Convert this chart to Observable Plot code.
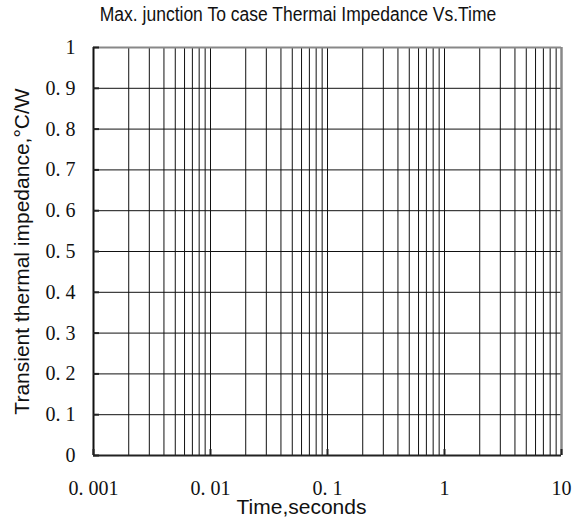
<!DOCTYPE html>
<html>
<head>
<meta charset="utf-8">
<script src="https://cdn.jsdelivr.net/npm/d3@7"></script>
<script src="https://cdn.jsdelivr.net/npm/@observablehq/plot@0.6"></script>
<style>
  html, body { margin: 0; padding: 0; background: #fff; }
  #wrap { width: 580px; }
  #title {
    height: 30px; width: 580px; position: relative;
    font-family: "Liberation Sans", Arial, sans-serif; font-size: 20px; color: #111;
  }
  #title span {
    position: absolute; left: 298px; top: 3px; white-space: nowrap;
    transform: translateX(-50%) scaleX(0.875); transform-origin: center;
  }
</style>
</head>
<body>
<div id="wrap">
  <div id="title"><span>Max. junction To case Thermai Impedance Vs.Time</span></div>
  <div id="chart"></div>
</div>
<script>
const decades = [0.001, 0.01, 0.1, 1, 10];
const xLabels = ["0. 001", "0. 01", "0. 1", "1", "10"];
const minorMultipliers = [2, 3, 4, 5, 6, 7, 8, 9];
const yTicks = [0, 0.1, 0.2, 0.3, 0.4, 0.5, 0.6, 0.7, 0.8, 0.9, 1];
const yLabels = ["0", "0. 1", "0. 2", "0. 3", "0. 4", "0. 5", "0. 6", "0. 7", "0. 8", "0. 9", "1"];
const xTitle = "Time,seconds";
const yTitle = "Transient thermal impedance,°C/W";

const minorX = decades.slice(0, -1).flatMap(d => minorMultipliers.map(m => d * m));
const xTickData = decades.map((v, i) => ({v, label: xLabels[i]}));
const yTickData = yTicks.map((v, i) => ({v, label: yLabels[i]}));

const serif = "'Liberation Serif', 'Times New Roman', serif";
const sans = "'Liberation Sans', Arial, sans-serif";

const chart = Plot.plot({
  width: 580,
  height: 490,
  marginLeft: 93,
  marginRight: 19,
  marginTop: 17,
  marginBottom: 65,
  x: {type: "log", domain: [0.001, 10], axis: null},
  y: {domain: [0, 1], axis: null},
  style: {background: "#fff", overflow: "visible"},
  marks: [
    Plot.ruleX(minorX, {stroke: "#111", strokeWidth: 1}),
    Plot.ruleX(decades.slice(1, -1), {stroke: "#111", strokeWidth: 1}),
    Plot.ruleY(yTicks.slice(1, -1), {stroke: "#111", strokeWidth: 1}),
    Plot.ruleY([1], {stroke: "#888", strokeWidth: 2}),
    Plot.ruleX([10], {stroke: "#888", strokeWidth: 2.5}),
    Plot.ruleX([0.001], {stroke: "#111", strokeWidth: 2}),
    Plot.ruleY([0], {stroke: "#222", strokeWidth: 2}),
    Plot.ruleX(decades, {stroke: "#222", strokeWidth: 2, insetTop: 402}),
    Plot.ruleY(yTicks, {stroke: "#222", strokeWidth: 2, insetRight: 462}),
    Plot.text(yTickData, {
      y: "v", text: "label", frameAnchor: "left", dx: -18, textAnchor: "end",
      fontFamily: serif, fontSize: 20, fill: "#111"
    }),
    Plot.text(xTickData, {
      x: "v", text: "label", frameAnchor: "bottom", dy: 33, lineAnchor: "middle",
      fontFamily: serif, fontSize: 20, fill: "#111"
    }),
    Plot.text([xTitle], {
      frameAnchor: "bottom", dx: -26, dy: 52, lineAnchor: "middle", textAnchor: "middle",
      fontFamily: sans, fontSize: 21, fill: "#111"
    }),
    Plot.text([yTitle], {
      frameAnchor: "left", dx: -71, rotate: -90, lineAnchor: "middle", textAnchor: "middle",
      fontFamily: sans, fontSize: 21, fill: "#111"
    })
  ]
});
document.getElementById("chart").appendChild(chart);
</script>
</body>
</html>
